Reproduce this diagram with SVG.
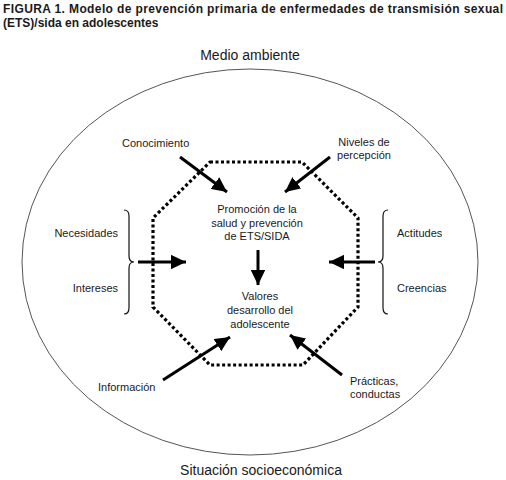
<svg xmlns="http://www.w3.org/2000/svg" width="506" height="480" viewBox="0 0 506 480">
<style>
text{font-family:"Liberation Sans",Arial,sans-serif;fill:#1a1a1a}
.t{font-weight:bold;font-size:12px}
.big{font-size:14px}
.lbl{font-size:11px}
.arr{stroke:#000;stroke-width:3;fill:none;marker-end:url(#ah)}
.brace{stroke:#111;stroke-width:1.2;fill:none}
</style>
<defs>
<marker id="ah" viewBox="0 0 5 4.8" refX="5" refY="2.4" markerWidth="5" markerHeight="4.8" orient="auto" markerUnits="strokeWidth">
<path d="M0,0 L5,2.4 L0,4.8 z" fill="#000"/>
</marker>
</defs>
<rect width="506" height="480" fill="#fff"/>
<g id="title">
<text class="t" x="3" y="13" textLength="500" lengthAdjust="spacing">FIGURA 1. Modelo de prevención primaria de enfermedades de transmisión sexual</text>
<text class="t" x="3" y="27">(ETS)/sida en adolescentes</text>
</g>
<g id="environment">
<ellipse cx="250" cy="262" rx="228" ry="193" fill="none" stroke="#555" stroke-width="1"/>
<text class="big" x="250" y="60" text-anchor="middle">Medio ambiente</text>
<text class="big" x="261" y="475" text-anchor="middle">Situación socioeconómica</text>
</g>
<g id="octagon">
<polygon points="210,162 302,162 358,218 358,307 303,365 210,365 153,307 153,218" fill="none" stroke="#000" stroke-width="3.2" stroke-dasharray="3,2.5"/>
</g>
<g id="promocion">
<text class="lbl" text-anchor="middle" x="257" y="213">Promoción de la</text>
<text class="lbl" text-anchor="middle" x="257" y="226.5">salud y prevención</text>
<text class="lbl" text-anchor="middle" x="257" y="240">de ETS/SIDA</text>
</g>
<g id="valores">
<text class="lbl" text-anchor="middle" x="260" y="300">Valores</text>
<text class="lbl" text-anchor="middle" x="260" y="314">desarrollo del</text>
<text class="lbl" text-anchor="middle" x="260" y="328">adolescente</text>
</g>
<g id="conocimiento"><text class="lbl" x="122" y="147">Conocimiento</text></g>
<g id="niveles">
<text class="lbl" text-anchor="middle" x="364" y="146">Niveles de</text>
<text class="lbl" text-anchor="middle" x="364" y="159">percepción</text>
</g>
<g id="necesidades">
<text class="lbl" text-anchor="end" x="118" y="237">Necesidades</text>
<text class="lbl" text-anchor="end" x="118" y="292">Intereses</text>
<path class="brace" d="M124,210 Q129,210 129,216 L129,256 Q129,262 134,262 Q129,262 129,268 L129,308 Q129,314 124,314"/>
</g>
<g id="actitudes">
<text class="lbl" x="397" y="237">Actitudes</text>
<text class="lbl" x="397" y="292">Creencias</text>
<path class="brace" d="M388,210 Q383,210 383,216 L383,256 Q383,262 378,262 Q383,262 383,268 L383,308 Q383,314 388,314"/>
</g>
<g id="informacion"><text class="lbl" x="98" y="391">Información</text></g>
<g id="practicas">
<text class="lbl" x="350" y="385">Prácticas,</text>
<text class="lbl" x="350" y="398">conductas</text>
</g>
<g id="connectors">
<line class="arr" x1="180" y1="157" x2="227" y2="192"/>
<line class="arr" x1="330" y1="157" x2="285" y2="192"/>
<line class="arr" x1="138" y1="262" x2="186" y2="262"/>
<line class="arr" x1="375" y1="262" x2="329" y2="262"/>
<line class="arr" x1="258" y1="250" x2="258" y2="285"/>
<line class="arr" x1="163" y1="380" x2="230" y2="337"/>
<line class="arr" x1="342" y1="375" x2="290" y2="335"/>
</g>
</svg>
